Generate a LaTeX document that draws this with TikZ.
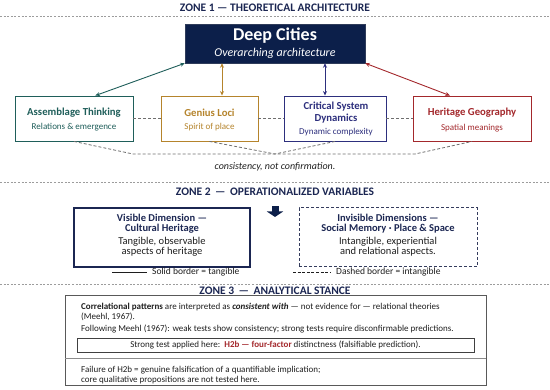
\documentclass[tikz,border=0pt]{standalone}
\usepackage{fontspec}
\setmainfont{Carlito}
\usetikzlibrary{arrows.meta}
\definecolor{navyfill}{HTML}{0C1F4A}
\definecolor{zonetext}{HTML}{1B2652}
\definecolor{tealc}{HTML}{1F5E5A}
\definecolor{goldc}{HTML}{B5842C}
\definecolor{indigoc}{HTML}{2D2F7D}
\definecolor{redc}{HTML}{A3282C}
\definecolor{tiegray}{HTML}{6E6E6E}
\definecolor{sepgray}{HTML}{9C9C9C}
\definecolor{bodytext}{HTML}{1E1E1E}
\tikzset{
  zonettl/.style={font=\fontsize{11.5}{13}\selectfont\bfseries, text=zonetext, inner sep=0pt},
  zonesep/.style={draw=sepgray, line width=0.6pt, dash pattern=on 2pt off 1.6pt},
  topbox/.style={fill=navyfill, draw=navyfill!70!gray, line width=0.5pt, minimum width=180pt, minimum height=39pt, inner sep=0pt},
  toptl/.style={font=\fontsize{18}{18}\selectfont\bfseries, text=white, inner sep=0pt},
  topsub/.style={font=\fontsize{12}{12}\selectfont\itshape, text=white, inner sep=0pt},
  thbox/.style={draw=#1, fill=white, line width=0.9pt, minimum height=45pt, inner sep=0pt},
  bttl/.style={font=\fontsize{10.7}{11.5}\selectfont\bfseries, align=center, inner sep=0pt},
  bsub/.style={font=\fontsize{9}{10}\selectfont, inner sep=0pt},
  twoway/.style={{Stealth[length=4.5pt,width=4pt]}-{Stealth[length=4.5pt,width=4pt]}, draw=#1, line width=0.9pt},
  tie/.style={draw=tiegray, line width=0.8pt, dash pattern=on 3pt off 2pt},
  note/.style={font=\fontsize{10}{11}\selectfont\itshape, text=bodytext, inner sep=0pt},
  downarr/.style={-{Triangle[width=16pt,length=5.5pt]}, draw=navyfill, line width=7pt},
  visbox/.style={draw=zonetext, line width=1.2pt, minimum width=176pt, minimum height=59pt, inner sep=0pt},
  invbox/.style={draw=zonetext!75!gray, line width=1.0pt, dash pattern=on 3pt off 2pt, minimum width=178pt, minimum height=59pt, inner sep=0pt},
  dimttl/.style={font=\fontsize{10.5}{10}\selectfont\bfseries, text=zonetext, align=center, inner sep=0pt},
  dimsub/.style={font=\fontsize{10.5}{10}\selectfont, text=bodytext, align=center, inner sep=0pt},
  legsolid/.style={draw=bodytext, line width=0.8pt},
  legdash/.style={draw=bodytext, line width=0.8pt, dash pattern=on 3pt off 1.6pt},
  legtxt/.style={font=\fontsize{9.5}{10}\selectfont, text=bodytext, anchor=west, inner sep=0pt},
  stancebox/.style={draw=black!65, line width=1.0pt, minimum width=421pt, minimum height=90pt, inner sep=0pt},
  strongbox/.style={draw=black!75, line width=0.8pt, minimum width=397pt, minimum height=14pt, inner sep=0pt, font=\fontsize{9}{10}\selectfont, text=bodytext},
  body/.style={font=\fontsize{9}{10}\selectfont, text=bodytext, anchor=west, inner sep=0pt},
  rule/.style={draw=black!45, line width=0.6pt},
}

\begin{document}
\begin{tikzpicture}[x=1pt,y=-1pt]
  \useasboundingbox (0,0) rectangle (550,390);
  % zone 1
  \node[zonettl] (z1) at (275,8) {ZONE 1 — THEORETICAL ARCHITECTURE};
  \draw[zonesep] (0,16.5) -- (550,16.5);
  \node[topbox] (dc) at (275,43.5) {};
  \node[toptl] (dct) at (275,36) {Deep Cities};
  \node[topsub] (dcs) at (275,53) {Overarching architecture};
  \node[thbox=tealc, minimum width=118pt] (ast) at (74,118.5) {};
  \node[thbox=goldc, minimum width=97pt] (gen) at (209.5,118.5) {};
  \node[thbox=indigoc, minimum width=102pt] (csd) at (335,118.5) {};
  \node[thbox=redc, minimum width=118pt] (hg) at (472,118.5) {};
  \node[bttl, text=tealc] (astt) at (74,113) {Assemblage Thinking};
  \node[bsub, text=tealc] (asts) at (74,127) {Relations \& emergence};
  \node[bttl, text=goldc] (gent) at (209.5,113) {Genius Loci};
  \node[bsub, text=goldc] (gens) at (209.5,127) {Spirit of place};
  \node[bttl, text=indigoc] (csdt) at (336,112.5) {Critical System\\Dynamics};
  \node[bsub, text=indigoc] (csds) at (336,132) {Dynamic complexity};
  \node[bttl, text=redc] (hgt) at (472,113) {Heritage Geography};
  \node[bsub, text=redc] (hgs) at (472,128) {Spatial meanings};
  \draw[twoway=tealc] (dc.south west) -- (ast.47);
  \draw[twoway=goldc] ([xshift=12.5pt]gen.north) -- ([xshift=12.5pt]gen.north |- dc.south);
  \draw[twoway=indigoc] ([xshift=-10pt]csd.north) -- ([xshift=-10pt]csd.north |- dc.south);
  \draw[twoway=redc] (dc.south east) -- (hg.134);
  \draw[tie] (ast.east) -- (gen.west);
  \draw[tie] (gen.east) -- (csd.west);
  \draw[tie] (csd.east) -- (hg.west);
  \coordinate (brl) at (133,154);
  \coordinate (brm) at (275,154);
  \coordinate (brr) at (415,154);
  \draw[tie] (ast.south) -- (brl) -- (brr) -- (hg.south);
  \draw[tie] (gen.south) -- (brm) -- (csd.south);
  \node[note] (cnc) at (275,167) {consistency, not confirmation.};
  % zone 2
  \draw[zonesep] (0,182) -- (550,182);
  \node[zonettl] (z2) at (275,192) {ZONE 2 \,—\, OPERATIONALIZED VARIABLES};
  \coordinate (dn1) at (275,206.5);
  \coordinate (dn2) at (275,217);
  \draw[downarr] (dn1) -- (dn2);
  \node[visbox] (vis) at (162,237.5) {};
  \node[invbox] (inv) at (388,237.5) {};
  \node[dimttl] (vist) at (162,224) {Visible Dimension —\\Cultural Heritage};
  \node[dimsub] (viss) at (162,247) {Tangible, observable\\aspects of heritage};
  \node[dimttl] (invt) at (388,224) {Invisible Dimensions —\\Social Memory · Place \& Space};
  \node[dimsub] (invs) at (388,247) {Intangible, experiential\\and relational aspects.};
  \coordinate (ls1) at (112,272);
  \coordinate (ls2) at (147,272);
  \draw[legsolid] (ls1) -- (ls2);
  \node[legtxt] (lst) at (152,272) {Solid border = tangible};
  \coordinate (ld1) at (293,272);
  \coordinate (ld2) at (330,272);
  \draw[legdash] (ld1) -- (ld2);
  \node[legtxt] (ldt) at (336,272) {Dashed border = intangible};
  % zone 3
  \draw[zonesep] (0,284) -- (550,284);
  \node[zonettl] (z3) at (275,291) {ZONE 3 \,—\, ANALYTICAL STANCE};
  \node[stancebox] (st) at (275.5,341) {};
  \node[body] (l1) at (81,307) {\textbf{Correlational patterns} are interpreted as \textbf{\textit{consistent with}} — not evidence for — relational theories};
  \node[body] (l2) at (81,317) {(Meehl, 1967).};
  \node[body] (l3) at (81,329) {Following Meehl (1967): weak tests show consistency; strong tests require disconfirmable predictions.};
  \node[strongbox] (sb) at (275.5,345) {Strong test applied here:\ \ \textcolor{redc}{\textbf{H2b — four-factor}} distinctness (falsifiable prediction).};
  \coordinate (rl) at (65,358);
  \coordinate (rr) at (486,358);
  \draw[rule] (rl) -- (rr);
  \node[body] (l4) at (81,370) {Failure of H2b = genuine falsification of a quantifiable implication;};
  \node[body] (l5) at (81,380) {core qualitative propositions are not tested here.};
\end{tikzpicture}
\end{document}
